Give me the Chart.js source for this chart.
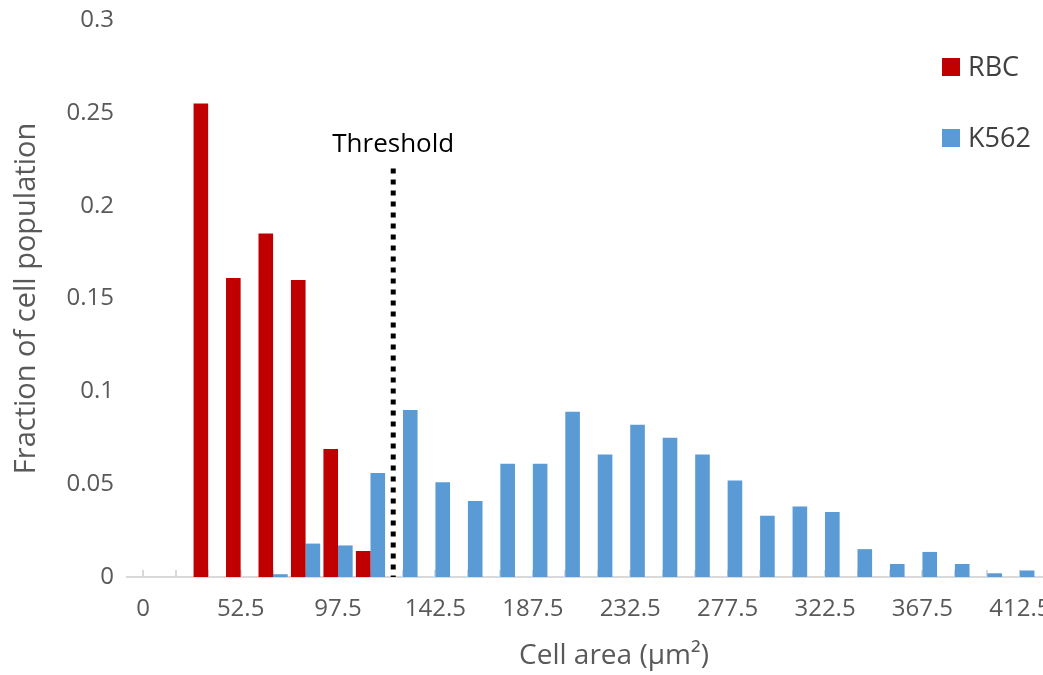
<!DOCTYPE html>
<html>
<head>
<meta charset="utf-8">
<script src="https://cdn.jsdelivr.net/npm/chart.js@4.4.1/dist/chart.umd.min.js"></script>
<style>
  html, body { margin: 0; padding: 0; background: #fff; overflow: hidden; width: 1043px; height: 675px; }
  #wrap { position: relative; width: 1101px; height: 675px; }
</style>
</head>
<body>
<div id="wrap"><canvas id="c"></canvas></div>
<script>
// Cell-area bins (µm²)
const areaBins = ['0', '22.5', '37.5', '52.5', '67.5', '82.5', '97.5', '112.5', '127.5', '142.5',
  '157.5', '172.5', '187.5', '202.5', '217.5', '232.5', '247.5', '262.5', '277.5', '292.5',
  '307.5', '322.5', '337.5', '352.5', '367.5', '382.5', '397.5', '412.5', '427.5', '442.5'];

// Fraction of each population per bin
const rbcFraction = [0, 0, 0.255, 0.161, 0.185, 0.160, 0.069, 0.014, 0, 0,
  0, 0, 0, 0, 0, 0, 0, 0, 0, 0,
  0, 0, 0, 0, 0, 0, 0, 0, null, null];
const k562Fraction = [0, 0, 0, 0, 0.0015, 0.018, 0.017, 0.056, 0.090, 0.051,
  0.041, 0.061, 0.061, 0.089, 0.066, 0.082, 0.075, 0.066, 0.052, 0.033,
  0.038, 0.035, 0.015, 0.007, 0.0135, 0.007, 0.002, 0.0035, null, null];

const seriesNames = ['RBC', 'K562'];
const seriesColors = ['#C00000', '#5B9BD5'];

// Size threshold separating the two populations
const thresholdArea = 123;
const thresholdTop = 0.22;

const yMin = 0, yMax = 0.3, yStep = 0.05;

const TEXT = '#595959';
const FONT = "'Open Sans', 'DejaVu Sans', sans-serif";
Chart.defaults.font.family = FONT;

// position of an area value on the category axis (fractional bin index)
function binIndexOf(area) {
  const vals = areaBins.map(Number);
  for (let i = 0; i < vals.length - 1; i++) {
    if (area >= vals[i] && area <= vals[i + 1]) {
      return i + (area - vals[i]) / (vals[i + 1] - vals[i]);
    }
  }
  return vals.length - 1;
}

const thresholdPlugin = {
  id: 'threshold',
  afterDatasetsDraw(chart) {
    const { ctx, scales: { x, y } } = chart;
    const px = x.getPixelForValue(binIndexOf(thresholdArea));
    const yBottom = y.getPixelForValue(0);
    const yTop = y.getPixelForValue(thresholdTop);
    ctx.save();
    ctx.strokeStyle = '#000';
    ctx.lineWidth = 5;
    ctx.lineCap = 'butt';
    ctx.setLineDash([5, 6]);
    ctx.beginPath();
    ctx.moveTo(px, yTop);
    ctx.lineTo(px, yBottom);
    ctx.stroke();
    ctx.setLineDash([]);
    ctx.fillStyle = '#000';
    ctx.font = "26px " + FONT;
    ctx.textAlign = 'center';
    ctx.textBaseline = 'alphabetic';
    ctx.fillText('Threshold', px, yTop - 17);
    ctx.restore();
  }
};

const legendPlugin = {
  id: 'sideLegend',
  afterDraw(chart) {
    const { ctx } = chart;
    ctx.save();
    chart.data.datasets.forEach((ds, i) => {
      const top = 58 + i * 71;
      ctx.fillStyle = ds.backgroundColor;
      ctx.fillRect(942, top, 18, 18);
      ctx.fillStyle = '#404040';
      ctx.font = "27px " + FONT;
      ctx.textAlign = 'left';
      ctx.textBaseline = 'middle';
      ctx.fillText(ds.label, 968, top + 10);
    });
    ctx.restore();
  }
};

new Chart(document.getElementById('c'), {
  type: 'bar',
  data: {
    labels: areaBins,
    datasets: [
      { label: seriesNames[0], data: rbcFraction, backgroundColor: seriesColors[0], borderWidth: 0 },
      { label: seriesNames[1], data: k562Fraction, backgroundColor: seriesColors[1], borderWidth: 0 }
    ]
  },
  options: {
    responsive: true,
    maintainAspectRatio: false,
    devicePixelRatio: 1,
    animation: false,
    layout: { padding: { top: 20, left: 0, right: 0, bottom: 0 } },
    datasets: { bar: { categoryPercentage: 0.9, barPercentage: 1.0 } },
    plugins: { legend: { display: false }, tooltip: { enabled: false } },
    scales: {
      x: {
        type: 'category',
        offset: true,
        grid: { display: true, drawOnChartArea: false, offset: false, drawTicks: true, tickLength: -7, color: '#d9d9d9', lineWidth: 2 },
        border: { display: true, color: '#d9d9d9', width: 2 },
        ticks: {
          autoSkip: false, maxRotation: 0, minRotation: 0, color: TEXT,
          font: { size: 24 }, padding: 25,
          callback: (v, i) => (i % 3 === 0 ? areaBins[i] : '')
        },
        title: { display: true, text: 'Cell area (µm²)', color: TEXT, font: { size: 28 }, padding: { top: 0, bottom: 2 } },
        afterFit: s => { s.height = 98; s.paddingLeft = 0; s.paddingRight = 0; }
      },
      y: {
        min: yMin, max: yMax,
        grid: { display: false, drawTicks: false },
        border: { display: false },
        ticks: {
          stepSize: yStep, color: TEXT, font: { size: 24 }, padding: 13,
          callback: v => String(+v.toFixed(2))
        },
        title: { display: true, text: 'Fraction of cell population', color: TEXT, font: { size: 29 }, padding: { top: 9, bottom: 0 } },
        afterFit: s => { s.width = 127; s.paddingTop = 0; s.paddingBottom = 0; }
      }
    }
  },
  plugins: [thresholdPlugin, legendPlugin]
});
</script>
</body>
</html>
